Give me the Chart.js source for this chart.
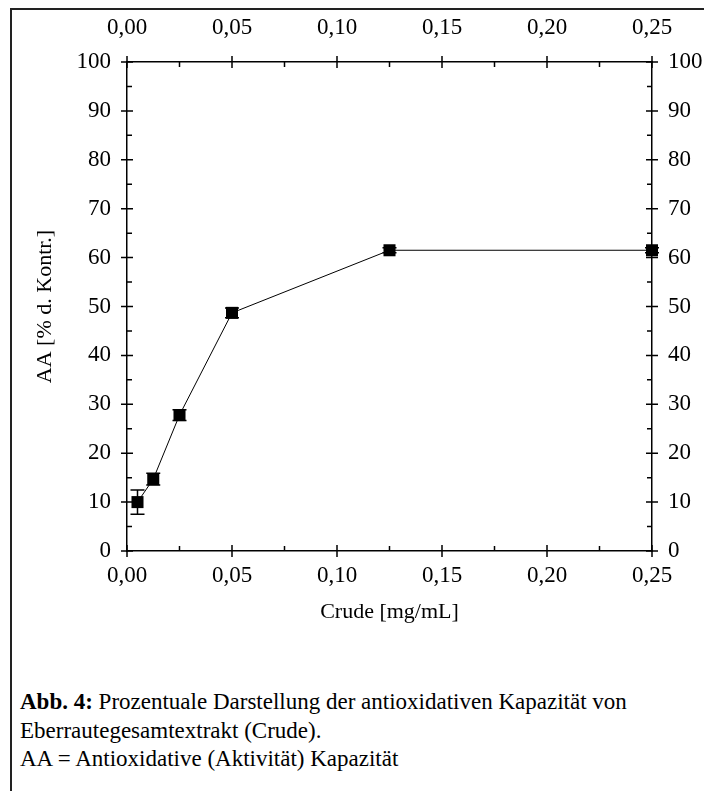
<!DOCTYPE html>
<html>
<head>
<meta charset="utf-8">
<script src="https://cdn.jsdelivr.net/npm/chart.js@4.4.0/dist/chart.umd.min.js"></script>
<style>
  body { margin: 0; background: #fff; width: 704px; height: 791px; overflow: hidden; position: relative; font-family: "Liberation Serif", "Times New Roman", serif; }
  #frame { position: absolute; left: 10px; top: 8px; width: 720px; height: 800px; border-left: 2px solid #222; border-top: 2px solid #222; }
  #wrap { position: absolute; left: 0; top: 0; width: 704px; height: 660px; }
  #caption { position: absolute; left: 20px; top: 688px; font-size: 23px; line-height: 28.5px; color: #000; }
</style>
</head>
<body>
<div id="frame"></div>
<div id="wrap"><canvas id="chart" width="704" height="660"></canvas></div>
<div id="caption">
  <b>Abb. 4:</b> Prozentuale Darstellung der antioxidativen Kapazität von<br>
  Eberrautegesamtextrakt (Crude).<br>
  AA = Antioxidative (Aktivität) Kapazität
</div>
<script>
// Crude extract concentration vs. antioxidant capacity
const conc = [0.005, 0.0125, 0.025, 0.05, 0.125, 0.25];
const activity = [10, 14.7, 27.8, 48.7, 61.5, 61.5];
const errors = [2.5, 1.2, 1.1, 1.0, 0.5, 0.5];

const xMajor = [0, 0.05, 0.10, 0.15, 0.20, 0.25];
const xMinor = [0.025, 0.075, 0.125, 0.175, 0.225];
const yMajor = [0, 10, 20, 30, 40, 50, 60, 70, 80, 90, 100];
const yMinor = [5, 15, 25, 35, 45, 55, 65, 75, 85, 95];

const FONT = '"Liberation Serif", "Times New Roman", serif';
const fmt = v => Number(v).toFixed(2).replace('.', ',');

// major ticks cross the axis, minor ticks point inwards
const tickMarks = {
  id: 'tickMarks',
  afterDraw(chart) {
    const { ctx, chartArea: a, scales } = chart;
    ctx.save();
    ctx.strokeStyle = '#000';
    ctx.lineWidth = 1.5;
    ctx.beginPath();
    xMajor.forEach(v => {
      const px = scales.x.getPixelForValue(v);
      ctx.moveTo(px, a.bottom + 6); ctx.lineTo(px, a.bottom - 6);
      ctx.moveTo(px, a.top - 6); ctx.lineTo(px, a.top + 6);
    });
    xMinor.forEach(v => {
      const px = scales.x.getPixelForValue(v);
      ctx.moveTo(px, a.bottom); ctx.lineTo(px, a.bottom - 5);
      ctx.moveTo(px, a.top); ctx.lineTo(px, a.top + 5);
    });
    yMajor.forEach(v => {
      const py = scales.y.getPixelForValue(v);
      ctx.moveTo(a.left - 6, py); ctx.lineTo(a.left + 6, py);
      ctx.moveTo(a.right - 6, py); ctx.lineTo(a.right + 6, py);
    });
    yMinor.forEach(v => {
      const py = scales.y.getPixelForValue(v);
      ctx.moveTo(a.left, py); ctx.lineTo(a.left + 5, py);
      ctx.moveTo(a.right, py); ctx.lineTo(a.right - 5, py);
    });
    ctx.stroke();
    ctx.restore();
  }
};

const errorBars = {
  id: 'errorBars',
  beforeDatasetsDraw(chart) {
    const { ctx, scales } = chart;
    const meta = chart.getDatasetMeta(0);
    ctx.save();
    ctx.strokeStyle = '#000';
    ctx.lineWidth = 1.5;
    ctx.beginPath();
    meta.data.forEach((pt, i) => {
      const hi = scales.y.getPixelForValue(activity[i] + errors[i]);
      const lo = scales.y.getPixelForValue(activity[i] - errors[i]);
      ctx.moveTo(pt.x, hi); ctx.lineTo(pt.x, lo);
      ctx.moveTo(pt.x - 7, hi); ctx.lineTo(pt.x + 7, hi);
      ctx.moveTo(pt.x - 7, lo); ctx.lineTo(pt.x + 7, lo);
    });
    ctx.stroke();
    ctx.restore();
  }
};

const axisBorder = { display: true, color: '#000', width: 1.5 };
const noGrid = { display: false, drawTicks: false };
const tickFont = { family: FONT, size: 23 };
const titleFont = { family: FONT, size: 22 };

new Chart(document.getElementById('chart'), {
  type: 'line',
  data: {
    datasets: [{
      data: conc.map((c, i) => ({ x: c, y: activity[i] })),
      borderColor: '#000',
      borderWidth: 1,
      backgroundColor: '#000',
      pointStyle: 'rect',
      pointRadius: 8.5,
      pointBorderWidth: 0,
      tension: 0,
      clip: false
    }]
  },
  options: {
    responsive: false,
    animation: false,
    layout: { padding: 0 },
    plugins: { legend: { display: false }, tooltip: { enabled: false } },
    scales: {
      x: {
        type: 'linear', position: 'bottom', min: 0, max: 0.25,
        grid: noGrid, border: axisBorder,
        afterBuildTicks: s => { s.ticks = xMajor.map(v => ({ value: v })); },
        ticks: { color: '#000', font: tickFont, padding: 11, maxRotation: 0, autoSkip: false, callback: fmt },
        title: { display: true, text: 'Crude [mg/mL]', color: '#000', font: titleFont, padding: { top: 0, bottom: 35 } },
        afterFit: s => { s.height = 109; }
      },
      x2: {
        type: 'linear', position: 'top', min: 0, max: 0.25,
        grid: noGrid, border: axisBorder,
        afterBuildTicks: s => { s.ticks = xMajor.map(v => ({ value: v })); },
        ticks: { color: '#000', font: tickFont, padding: 20, maxRotation: 0, autoSkip: false, callback: fmt },
        afterFit: s => { s.height = 62; }
      },
      y: {
        type: 'linear', position: 'left', min: 0, max: 100,
        grid: noGrid, border: axisBorder,
        afterBuildTicks: s => { s.ticks = yMajor.map(v => ({ value: v })); },
        ticks: { color: '#000', font: tickFont, padding: 16, autoSkip: false },
        title: { display: true, text: 'AA [% d. Kontr.]', color: '#000', font: titleFont, padding: { top: 32, bottom: 0 } },
        afterFit: s => { s.width = 127; }
      },
      y2: {
        type: 'linear', position: 'right', min: 0, max: 100,
        grid: noGrid, border: axisBorder,
        afterBuildTicks: s => { s.ticks = yMajor.map(v => ({ value: v })); },
        ticks: { color: '#000', font: tickFont, padding: 16, autoSkip: false },
        afterFit: s => { s.width = 52; }
      }
    }
  },
  plugins: [errorBars, tickMarks]
});
</script>
</body>
</html>
